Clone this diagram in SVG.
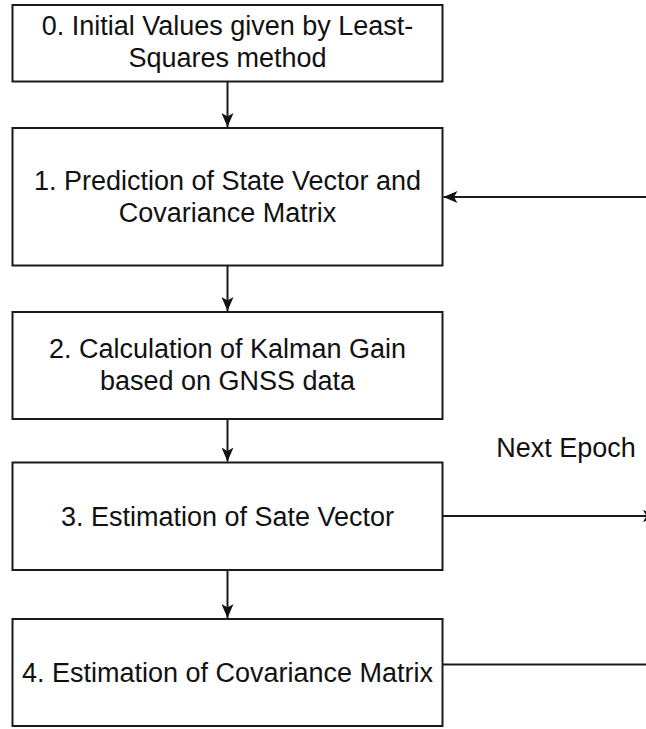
<svg xmlns="http://www.w3.org/2000/svg" width="646" height="729" viewBox="0 0 646 729">
<style>
.box{fill:#ffffff;stroke:#1a1a1a;stroke-width:2}
.t{font-family:"Liberation Sans",Arial,Helvetica,sans-serif;font-size:27px;fill:#111111;text-anchor:middle}
.c{fill:none;stroke:#1a1a1a;stroke-width:2}
</style>
<defs>
<marker id="ah" viewBox="0 0 14 12" refX="14" refY="6" markerWidth="14" markerHeight="12" markerUnits="userSpaceOnUse" orient="auto">
<path d="M0,0 L14,6 L0,12 L3.5,6 Z" fill="#111111"/>
</marker>
</defs>
<rect width="646" height="729" fill="#ffffff"/>
<g id="n0"><rect class="box" x="12.5" y="5" width="430" height="76.5"/>
<text class="t" x="227.5" y="35">0. Initial Values given by Least-</text>
<text class="t" x="227.5" y="67">Squares method</text></g>
<g id="n1"><rect class="box" x="12.5" y="128" width="430" height="137.5"/>
<text class="t" x="227.5" y="190">1. Prediction of State Vector and</text>
<text class="t" x="227.5" y="222">Covariance Matrix</text></g>
<g id="n2"><rect class="box" x="12.5" y="312" width="430" height="107"/>
<text class="t" x="227.5" y="358">2. Calculation of Kalman Gain</text>
<text class="t" x="227.5" y="390">based on GNSS data</text></g>
<g id="n3"><rect class="box" x="12.5" y="462.5" width="430" height="107.5"/>
<text class="t" x="227.5" y="526">3. Estimation of Sate Vector</text></g>
<g id="n4"><rect class="box" x="12.5" y="619" width="430" height="107"/>
<text class="t" x="227.5" y="682">4. Estimation of Covariance Matrix</text></g>
<g id="lbl"><text class="t" x="566" y="457">Next Epoch</text></g>
<g id="connectors">
<line class="c" x1="227.5" y1="81.5" x2="227.5" y2="127" marker-end="url(#ah)"/>
<line class="c" x1="227.5" y1="265.5" x2="227.5" y2="311" marker-end="url(#ah)"/>
<line class="c" x1="227.5" y1="419" x2="227.5" y2="461.5" marker-end="url(#ah)"/>
<line class="c" x1="227.5" y1="570" x2="227.5" y2="618" marker-end="url(#ah)"/>
<line class="c" x1="646" y1="197" x2="443.5" y2="197" marker-end="url(#ah)"/>
<line class="c" x1="442.5" y1="516" x2="657" y2="516" marker-end="url(#ah)"/>
<line class="c" x1="442.5" y1="664.5" x2="646" y2="664.5"/>
</g>
</svg>
